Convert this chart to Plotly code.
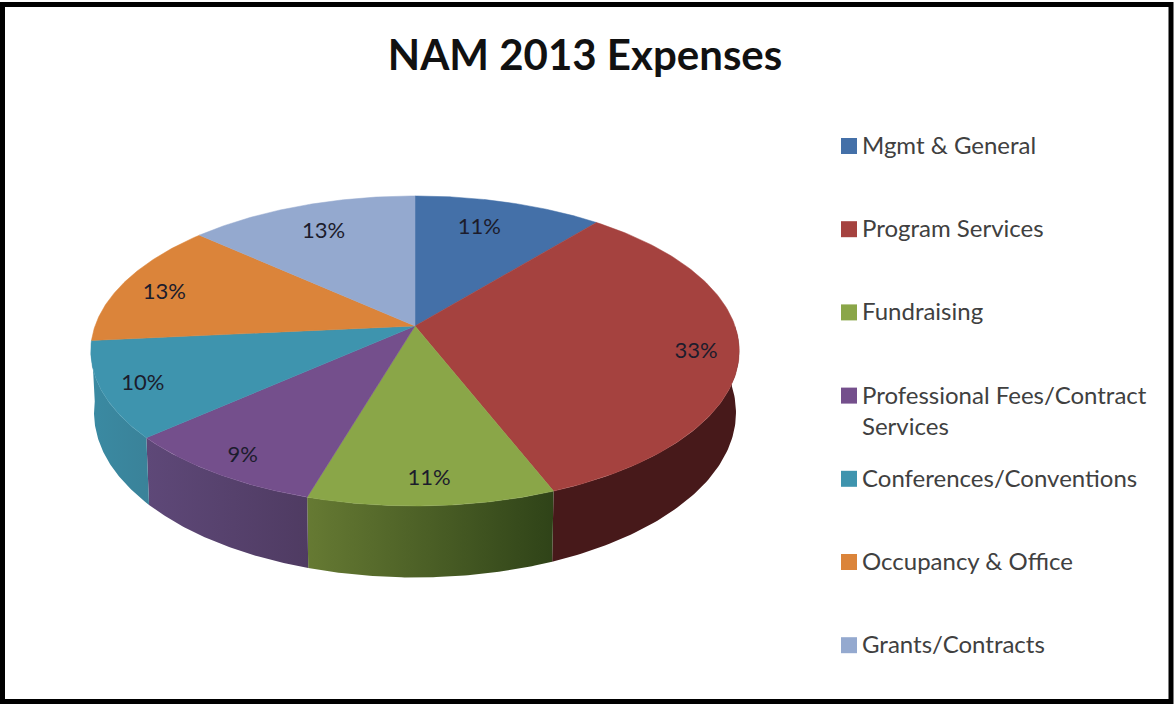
import numpy as np
import plotly.graph_objects as go

TITLE = "NAM 2013 Expenses"
categories = ["Mgmt & General", "Program Services", "Fundraising",
              "Professional Fees/Contract<br>Services", "Conferences/Conventions",
              "Occupancy & Office", "Grants/Contracts"]
values = [11.0, 33.0, 10.6, 8.9, 10.0, 13.1, 13.4]
top_colors = ["#4470a8", "#a5423f", "#8aa648", "#744f8c", "#3e94ae", "#db843a", "#94a9cf"]
wall_colors = [("#2f4f78", "#2f4f78"), ("#47191a", "#47191a"), ("#667a33", "#2f4318"),
               ("#5e4878", "#4f3b62"), ("#3a8aa2", "#3a8299"), None, None]
label_radius = [0.78, 0.87, 0.86, 0.88, 0.875, 0.85, 0.78]
label_angle_shift = [-3.0, 1.0, 0.0, 0.0, 0.0, -1.5, 0.0]

# projection of the pie disc onto the page
CX, CY, A, B, K, DEPTH, BOTTOM_SCALE = 415, 326, 320, 151, 0.161, 60, 0.99
LABEL_DY = 3


def project(theta_deg, r=1.0, bottom=False):
    t = np.radians(theta_deg)
    u, v = r * np.sin(t), r * np.cos(t)
    w = 1 + K * v
    x = CX + A * u / w * (BOTTOM_SCALE if bottom else 1)
    y = CY - B * v / w + (DEPTH / w if bottom else 0)
    return x, y


edges = np.concatenate([[0], np.cumsum(values)]) / sum(values) * 360
fig = go.Figure()

# side walls (front of the rim only)
for i, name in enumerate(categories):
    if wall_colors[i] is None:
        continue
    a0, a1 = max(edges[i], 90), edges[i + 1]
    if a1 <= a0:
        continue
    th = np.linspace(a0, a1, 80)
    xt, yt = project(th)
    xb, yb = project(th[::-1], bottom=True)
    c0, c1 = wall_colors[i]
    fig.add_trace(go.Scatter(
        x=np.concatenate([xt, xb]), y=np.concatenate([yt, yb]),
        mode="lines", line=dict(width=0), fill="toself",
        fillgradient=dict(type="horizontal", colorscale=[[0, c0], [1, c1]]),
        hoverinfo="skip", showlegend=False))

# top face
for i, name in enumerate(categories):
    th = np.linspace(edges[i], edges[i + 1], 120)
    xt, yt = project(th)
    fig.add_trace(go.Scatter(
        x=np.concatenate([[CX], xt, [CX]]), y=np.concatenate([[CY], yt, [CY]]),
        mode="lines", line=dict(width=0.5, color=top_colors[i]), fill="toself",
        fillcolor=top_colors[i], name=name.replace("<br>", " "),
        hoverinfo="name", showlegend=False))

# percentage labels
mids = (edges[:-1] + edges[1:]) / 2 + np.array(label_angle_shift)
lx, ly = project(mids, np.array(label_radius))
fig.add_trace(go.Scatter(
    x=lx, y=ly + LABEL_DY, mode="text",
    text=[f"{round(v / sum(values) * 100)}%" for v in values],
    textposition="middle center",
    textfont=dict(family="Lato", size=22, color="#1c1c2c"),
    hoverinfo="skip", showlegend=False))

# legend
LEG_Y0, LEG_STEP, LEG_MX, LEG_TX = 146, 83.2, 849, 860
leg_y = [LEG_Y0 + LEG_STEP * i for i in range(len(categories))]
fig.add_trace(go.Scatter(
    x=[LEG_MX] * len(categories), y=leg_y, mode="markers",
    marker=dict(symbol="square", size=16, color=top_colors, line=dict(width=0)),
    hoverinfo="skip", showlegend=False))
annotations = [dict(x=LEG_TX, y=y - 18, xref="x", yref="y", text=c, showarrow=False,
                    xanchor="left", yanchor="top", align="left",
                    font=dict(family="Lato", size=24, color="#404040"))
               for c, y in zip(categories, leg_y)]

fig.update_layout(
    width=1174, height=704, autosize=False,
    margin=dict(l=0, r=0, t=0, b=0),
    paper_bgcolor="white", plot_bgcolor="white",
    title=dict(text=f"<b>{TITLE}</b>", x=585 / 1174, y=1 - 55 / 704,
               xanchor="center", yanchor="middle",
               font=dict(family="Lato", size=42, color="#111111")),
    xaxis=dict(range=[0, 1174], visible=False, fixedrange=True),
    yaxis=dict(range=[704, 0], visible=False, fixedrange=True),
    annotations=annotations,
    shapes=[dict(type="rect", xref="x", yref="y", x0=2.5, y0=4.5, x1=1171, y1=701.5,
                 line=dict(color="#000000", width=5), fillcolor="rgba(0,0,0,0)")],
)
fig.write_html("out.html", config=dict(displayModeBar=False),
               post_script="document.body.style.margin='0';document.body.style.overflow='hidden';")
